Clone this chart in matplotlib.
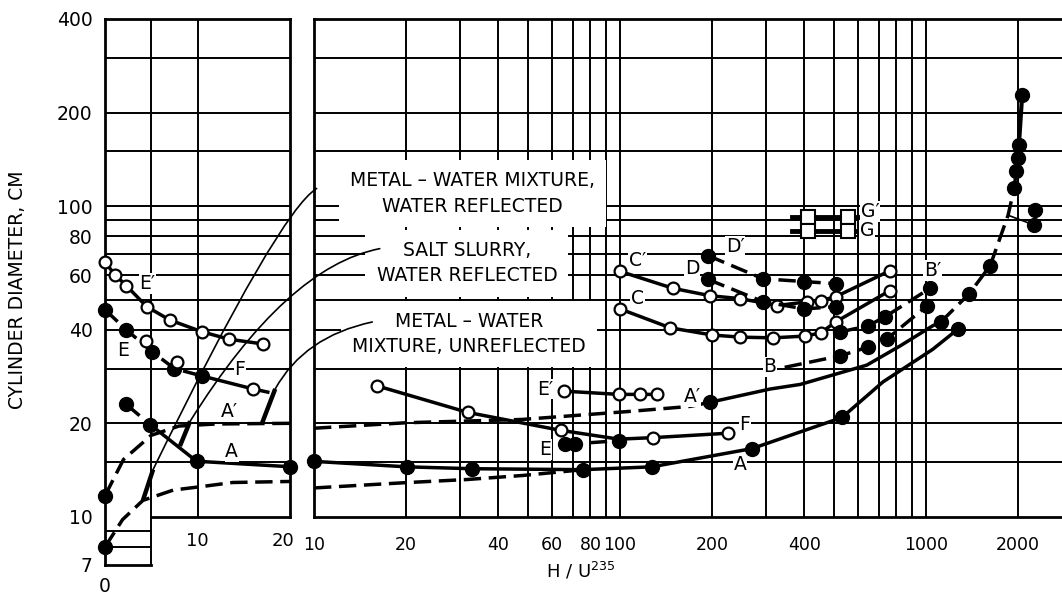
#
# Critical cylinder diameter vs H/U235 (two panels: linear 0-20, log 10-2000)
#
import matplotlib.pyplot as plt
from matplotlib.patches import ConnectionPatch
from matplotlib.ticker import NullLocator

plt.rcParams['font.family'] = ['DejaVu Sans']

# ---------------- data: left panel (H/U 0..20, linear) ----------------
ep_l_x = [0, 1.1, 2.3, 4.5, 7, 10.5, 13.4, 17.1]
ep_l_y = [66, 60, 55.5, 47.5, 43, 39.4, 37.3, 36]
e_l_x = [0, 2.3, 5.1, 7.5, 10.5]
e_l_y = [46.4, 40, 34, 30, 28.4]
f_l_x = [4.4, 7.8, 16]
f_l_y = [36.8, 31.5, 25.8]
f_l_line_x = [10.5, 16, 17.6]
f_l_line_y = [28.4, 25.8, 25.2]
ap_l_x = [0, 2, 5, 8, 12, 20]
ap_l_y = [11.7, 15.3, 18.3, 19.6, 19.9, 20]
a_l_x = [2.3, 4.9, 9.9, 20]
a_l_y = [23, 19.8, 15.1, 14.5]
w_l_x = [0, 1.9, 4.1, 7.4, 10.3, 13.8, 20]
w_l_y = [8.0, 9.8, 11.3, 12.2, 12.5, 12.9, 13.0]

# ---------------- data: right panel (H/U 10..2000, log) ----------------
ap_r_dash_x = [10, 20, 48, 110, 170, 197]
ap_r_dash_y = [19.3, 20.1, 20.6, 21.9, 22.7, 23.4]
ap_r_x = [197, 309, 388, 640, 822, 1050, 1120]
ap_r_y = [23.4, 25.8, 26.7, 30.8, 35.5, 41.2, 42.5]
top_x = [1120, 1384, 1620, 1853, 1940, 1970, 1990, 2010]
top_y = [42.5, 52.3, 64.4, 93.5, 114, 130, 143, 157]
top_mx = [1120, 1384, 1620, 1940, 1970, 1990, 2010, 2060]
top_my = [42.5, 52.3, 64.4, 114, 130, 143, 157, 228]
vert_x = [2010, 2060]
vert_y = [157, 228]
side_x = [2270, 2250]
side_y = [97, 87]
side_line_x = [1853, 2250]
side_line_y = [93.5, 87]

a_r_x = [10, 20.1, 32.8, 75.7, 127, 270, 531, 723, 1050, 1274]
a_r_y = [15.1, 14.5, 14.3, 14.2, 14.5, 16.6, 20.9, 27.2, 34.6, 40.3]
a_r_mx = [10, 20.1, 32.8, 75.7, 127, 270, 531, 1274]
a_r_my = [15.1, 14.5, 14.3, 14.2, 14.5, 16.6, 20.9, 40.3]
w_r_x = [10, 20, 31.6, 48, 76]
w_r_y = [12.4, 12.9, 13.2, 13.6, 14.2]

f_r_x = [16.1, 31.8, 64, 99, 128, 225]
f_r_y = [26.4, 21.7, 19.0, 17.8, 18.0, 18.6]
f_r_mx = [16.1, 31.8, 64, 128, 225]
f_r_my = [26.4, 21.7, 19.0, 18.0, 18.6]
e_r_x = [66, 71, 99]
e_r_y = [17.2, 17.2, 17.6]
ep_r_x = [65.6, 99, 116, 132]
ep_r_y = [25.4, 24.8, 24.8, 24.8]

cp_x = [100, 149, 197, 247, 326, 407, 452, 508, 762]
cp_y = [61.7, 54.4, 51.5, 50.4, 47.9, 49.2, 49.6, 51.2, 62]
c_x = [100, 146, 200, 247, 316, 403, 452, 508, 762]
c_y = [46.7, 40.6, 38.5, 37.9, 37.7, 38.2, 39.1, 42.5, 53.5]
dp_x = [194, 293, 400, 508]
dp_y = [69.3, 58.4, 57.2, 56.3]
d_x = [194, 293, 400, 508]
d_y = [58.1, 49.3, 46.7, 47.5]
b_x = [345, 524, 646, 745, 1010]
b_y = [30.3, 33.0, 35.2, 37.4, 47.9]
bp_x = [524, 646, 735, 1030]
bp_y = [39.4, 41.2, 44.1, 54.4]
g_x = [365, 411, 556, 600]
gp_y = [92.1, 92.1, 92.1, 92.1]
g_y = [83, 83, 83, 83]

# grid positions
grid_y = [15, 20, 30, 40, 50, 60, 70, 80, 90, 100, 150, 200, 300]
grid_x_right = [20, 30, 40, 50, 60, 70, 80, 90, 100, 200, 300, 400, 500,
                600, 700, 800, 900, 1000, 2000]
yticks = [7, 10, 20, 40, 60, 80, 100, 200, 400]
xticks_right = [10, 20, 40, 60, 80, 100, 200, 400, 1000, 2000]

LW = 2.5
DASH = (0, (5, 2.2))
FS = 13.5

fig = plt.figure(figsize=(10.62, 5.97), dpi=100)
ax1 = fig.add_axes([105 / 1062, 1 - 565 / 597, 185 / 1062, 546 / 597])
ax2 = fig.add_axes([314 / 1062, 1 - 517 / 597, 748 / 1062, 498 / 597])

# ---------------- left panel frame and grid ----------------
ax1.set_yscale('log')
ax1.set_xlim(0, 20)
ax1.set_ylim(7, 400)
for s in ['right', 'bottom']:
    ax1.spines[s].set_visible(False)
ax1.spines['left'].set_linewidth(2)
ax1.spines['top'].set_linewidth(2)
ax1.hlines(grid_y, 0, 20, color='k', lw=1.4, zorder=1)
ax1.hlines([8, 9], 0, 5, color='k', lw=1.4, zorder=1)
ax1.vlines(5, 7, 400, color='k', lw=1.4, zorder=1)
ax1.vlines(10, 10, 400, color='k', lw=1.4, zorder=1)
ax1.plot([0, 5], [7, 7], color='k', lw=2, clip_on=False)
ax1.plot([5, 20], [10, 10], color='k', lw=2, clip_on=False)
ax1.plot([20, 20], [10, 400], color='k', lw=2, clip_on=False)

ax1.yaxis.set_minor_locator(NullLocator())
ax1.set_yticks(yticks)
ax1.set_yticklabels([str(v) for v in yticks])
ax1.set_xticks([0])
ax1.set_xticklabels(['0'])
ax1.tick_params(which='both', length=0, labelsize=FS)
ax1.tick_params(axis='y', pad=9)
ax1.tick_params(axis='x', pad=9)
ax1.text(10, 8.35, '10', ha='center', va='center', fontsize=FS - 0.5)
ax1.text(19.2, 8.35, '20', ha='center', va='center', fontsize=FS - 0.5)

# ---------------- left panel curves ----------------
ax1.plot(ep_l_x, ep_l_y, '-', color='k', lw=LW, marker='o', ms=8.5,
         mfc='white', mec='k', mew=1.6, zorder=5, clip_on=False)
ax1.plot(e_l_x, e_l_y, color='k', lw=LW, ls=DASH, marker='o', ms=10,
         zorder=5, clip_on=False)
ax1.plot(f_l_line_x, f_l_line_y, '-', color='k', lw=LW, zorder=4)
ax1.plot(f_l_x, f_l_y, 'o', ms=8.5, mfc='white', mec='k', mew=1.6, zorder=6)
ax1.plot(ap_l_x, ap_l_y, color='k', lw=LW, ls=DASH, zorder=4)
ax1.plot(ap_l_x[:1], ap_l_y[:1], 'o', color='k', ms=10, zorder=5, clip_on=False)
ax1.plot(a_l_x[:2], a_l_y[:2], color='k', lw=LW, ls=DASH, zorder=4)
ax1.plot(a_l_x[1:], a_l_y[1:], '-', color='k', lw=LW, zorder=4)
ax1.plot(a_l_x, a_l_y, 'o', color='k', ms=10, zorder=5, clip_on=False)
ax1.plot(w_l_x, w_l_y, color='k', lw=LW, ls=DASH, zorder=4)
ax1.plot(w_l_x[:1], w_l_y[:1], 'o', color='k', ms=10, zorder=5, clip_on=False)

lab = dict(fontsize=FS, ha='center', va='center', zorder=7,
           bbox=dict(fc='white', ec='none', pad=0.5))
ax1.text(4.6, 56.3, "E′", **lab)
ax1.text(1.95, 34.2, "E", **lab)
ax1.text(14.6, 29.9, "F", **lab)
ax1.text(13.5, 21.9, "A′", **lab)
ax1.text(13.7, 16.2, "A", **lab)

# ---------------- right panel frame and grid ----------------
ax2.set_xscale('log')
ax2.set_yscale('log')
ax2.set_xlim(10, 2780)
ax2.set_ylim(10, 400)
ax2.spines['right'].set_visible(False)
for s in ['left', 'top', 'bottom']:
    ax2.spines[s].set_linewidth(2)
ax2.hlines(grid_y, 10, 2780, color='k', lw=1.4, zorder=1)
ax2.vlines(grid_x_right, 10, 400, color='k', lw=1.4, zorder=1)
ax2.xaxis.set_minor_locator(NullLocator())
ax2.yaxis.set_minor_locator(NullLocator())
ax2.set_xticks(xticks_right)
ax2.set_xticklabels([str(v) for v in xticks_right])
ax2.set_yticks([])
ax2.tick_params(which='both', length=0, labelsize=FS - 1, pad=14)
ax2.set_xlabel("H / U$^{235}$", fontsize=FS - 0.5)
ax2.xaxis.set_label_coords(0.356, -0.088)

# ---------------- right panel curves ----------------
open_kw = dict(ms=8.5, mfc='white', mec='k', mew=1.6)
ax2.plot(ap_r_dash_x, ap_r_dash_y, color='k', lw=LW, ls=DASH, zorder=4)
ax2.plot(ap_r_x, ap_r_y, '-', color='k', lw=LW, zorder=4)
ax2.plot(top_x, top_y, color='k', lw=LW, ls=DASH, zorder=4)
ax2.plot(top_mx, top_my, 'o', color='k', ms=10, zorder=5)
ax2.plot(vert_x, vert_y, '-', color='k', lw=LW + 0.5, zorder=4)
ax2.plot(side_line_x, side_line_y, '-', color='k', lw=1.2, zorder=4)
ax2.plot(side_x, side_y, 'o', color='k', ms=10, zorder=5)
ax2.plot(ap_r_x[:1], ap_r_y[:1], 'o', color='k', ms=10, zorder=5)

ax2.plot(a_r_x, a_r_y, '-', color='k', lw=LW, zorder=4)
ax2.plot(a_r_mx, a_r_my, 'o', color='k', ms=10, zorder=5, clip_on=False)
ax2.plot(w_r_x, w_r_y, color='k', lw=LW, ls=DASH, zorder=4)

ax2.plot(f_r_x, f_r_y, '-', color='k', lw=LW, zorder=4)
ax2.plot(f_r_mx, f_r_my, 'o', zorder=6, **open_kw)
ax2.plot(e_r_x, e_r_y, color='k', lw=LW, ls=DASH, marker='o', ms=10, zorder=5)
ax2.plot(ep_r_x, ep_r_y, '-', color='k', lw=LW, marker='o', zorder=5, **open_kw)

ax2.plot(cp_x, cp_y, '-', color='k', lw=LW, marker='o', zorder=5, **open_kw)
ax2.plot(c_x, c_y, '-', color='k', lw=LW, marker='o', zorder=5, **open_kw)
ax2.plot(dp_x, dp_y, color='k', lw=LW, ls=DASH, marker='o', ms=10, zorder=5)
ax2.plot(d_x, d_y, color='k', lw=LW, ls=DASH, marker='o', ms=10, zorder=5)
ax2.plot(b_x, b_y, color='k', lw=LW, ls=DASH, zorder=4)
ax2.plot(b_x[1:], b_y[1:], 'o', color='k', ms=10, zorder=5)
ax2.plot(bp_x, bp_y, color='k', lw=LW, ls=DASH, marker='o', ms=10, zorder=5)

ax2.plot(g_x, gp_y, '-', color='k', lw=LW + 1, zorder=4)
ax2.plot(g_x, g_y, '-', color='k', lw=LW + 1, zorder=4)
ax2.plot(g_x[1:3], gp_y[1:3], 's', ms=10, mfc='white', mec='k', mew=1.5, zorder=5)
ax2.plot(g_x[1:3], g_y[1:3], 's', ms=10, mfc='white', mec='k', mew=1.5, zorder=5)

ax2.text(114, 66.8, "C′", **lab)
ax2.text(114, 50.4, "C", **lab)
ax2.text(238, 74.3, "D′", **lab)
ax2.text(172, 63, "D", **lab)
ax2.text(1050, 62, "B′", **lab)
ax2.text(309, 30.4, "B", **lab)
ax2.text(172, 24.4, "A′", **lab)
ax2.text(56.9, 25.8, "E′", **lab)
ax2.text(56.9, 16.5, "E", **lab)
ax2.text(256, 19.8, "F", **lab)
ax2.text(247, 14.7, "A", **lab)
ax2.text(656, 96, "G′", **lab)
ax2.text(640, 83.6, "G", **lab)

# ---------------- description boxes and leader lines ----------------
box = dict(fontsize=FS, ha='center', va='center', linespacing=1.45, zorder=3,
           bbox=dict(fc='white', ec='none', pad=8))
ax2.text(33, 110, "METAL – WATER MIXTURE,\nWATER REFLECTED", **box)
ax2.text(31.6, 65.6, "SALT SLURRY,\nWATER REFLECTED", **box)
ax2.text(32.1, 38.8, "METAL – WATER\nMIXTURE, UNREFLECTED", **box)

leaders = [
    # start (right panel), knee (left panel), end (left panel), angles
    ((10.2, 114), (5.2, 14.2), (4.1, 11.3), 32, 64),
    ((16.4, 73), (9.2, 20.3), (8.1, 16.9), 11, 58),
    ((15.5, 42.4), (18.4, 25.8), (17.0, 20.1), 12, 61),
]
for start, knee, end, a1, a2 in leaders:
    cp = ConnectionPatch(xyA=start, coordsA=ax2.transData, xyB=knee,
                         coordsB=ax1.transData, lw=1.2, color='k',
                         connectionstyle=f"angle3,angleA={a1},angleB={a2}",
                         zorder=6)
    fig.add_artist(cp)
    ax1.plot([knee[0], end[0]], [knee[1], end[1]], '-', color='k', lw=3.2,
             zorder=6, solid_capstyle='butt')

fig.text(18 / 1062, 1 - 290 / 597, "CYLINDER DIAMETER, CM", rotation=90,
         ha='center', va='center', fontsize=FS)

plt.savefig("out.png", dpi=100)
